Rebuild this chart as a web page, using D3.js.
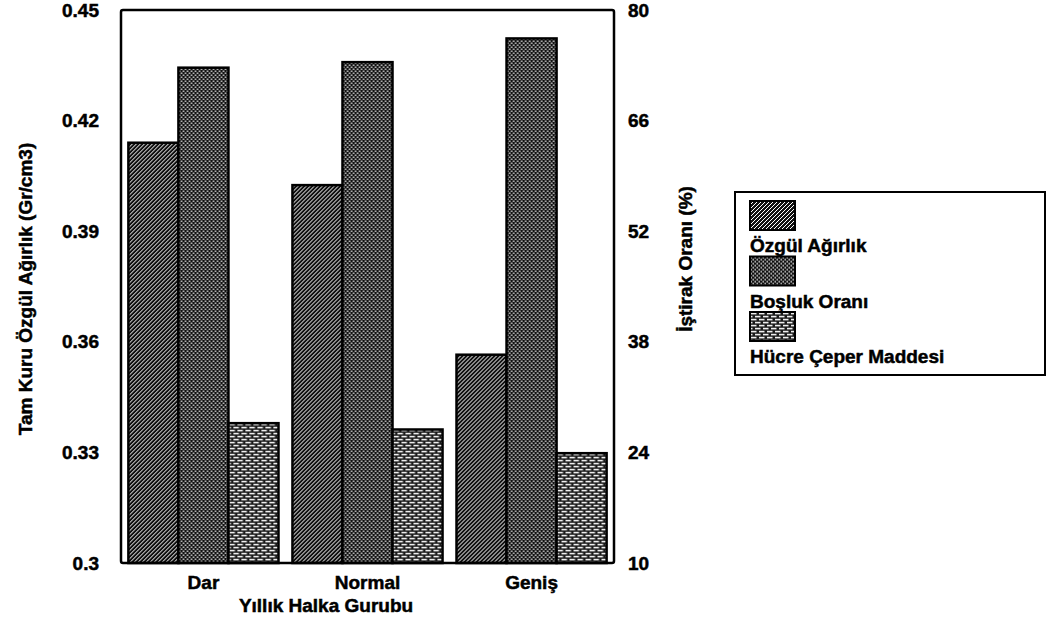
<!DOCTYPE html>
<html>
<head>
<meta charset="utf-8">
<script src="https://cdn.jsdelivr.net/npm/d3@7"></script>
<style>
  html, body { margin: 0; padding: 0; background: #fff; }
  text { font-family: "Liberation Sans", Arial, sans-serif; font-weight: bold; fill: #000; stroke: #000; stroke-width: 0.5px; }
</style>
</head>
<body>
<svg id="chart" width="1054" height="625"></svg>
<script>
// ---- data ----
const categories = ["Dar", "Normal", "Geniş"];
const seriesNames = ["Özgül Ağırlık", "Boşluk Oranı", "Hücre Çeper Maddesi"];
const ozgulAgirlik = [0.414, 0.4025, 0.3565];     // left axis (Gr/cm3)
const boslukOrani = [72.7, 73.4, 76.4];           // right axis (%)
const hucreCeper = [27.7, 26.9, 23.9];            // right axis (%)
const leftTicks = [0.3, 0.33, 0.36, 0.39, 0.42, 0.45];
const leftTickLabels = ["0.3", "0.33", "0.36", "0.39", "0.42", "0.45"];
const rightTicks = [10, 24, 38, 52, 66, 80];
const leftTitle = "Tam Kuru Özgül Ağırlık (Gr/cm3)";
const rightTitle = "İştirak Oranı (%)";
const xTitle = "Yıllık Halka Gurubu";

// ---- layout ----
const svg = d3.select("#chart");
const L = 121, R = 614, T = 10, B = 563;

const x = d3.scaleBand().domain(categories).range([L, R]).paddingInner(0.085).paddingOuter(0.045);
const xs = d3.scaleBand().domain([0, 1, 2]).range([0, x.bandwidth()]);
const yL = d3.scaleLinear().domain([0.3, 0.45]).range([B, T]);
const yR = d3.scaleLinear().domain([10, 80]).range([B, T]);

// ---- patterns ----
const defs = svg.append("defs");
// diagonal hatch
const p1 = defs.append("pattern").attr("id", "pat0").attr("patternUnits", "userSpaceOnUse")
  .attr("width", 4).attr("height", 4);
p1.append("rect").attr("width", 4).attr("height", 4).attr("fill", "#111");
p1.append("path").attr("d", "M-1,1 L1,-1 M0,4 L4,0 M3,5 L5,3")
  .attr("stroke", "#fff").attr("stroke-width", 1.0);
// dotted checker
const p2 = defs.append("pattern").attr("id", "pat1").attr("patternUnits", "userSpaceOnUse")
  .attr("width", 4).attr("height", 4);
p2.append("rect").attr("width", 4).attr("height", 4).attr("fill", "#111");
p2.append("rect").attr("x", 0.5).attr("y", 0.5).attr("width", 1.4).attr("height", 1.4).attr("fill", "#fff");
p2.append("rect").attr("x", 2.5).attr("y", 2.5).attr("width", 1.4).attr("height", 1.4).attr("fill", "#fff");
// brick
const p3 = defs.append("pattern").attr("id", "pat2").attr("patternUnits", "userSpaceOnUse")
  .attr("width", 8).attr("height", 6);
p3.append("rect").attr("width", 8).attr("height", 6).attr("fill", "#1a1a1a");
p3.append("rect").attr("x", 1).attr("y", 0.8).attr("width", 5.5).attr("height", 1.6).attr("fill", "#eee");
p3.append("rect").attr("x", 5).attr("y", 3.8).attr("width", 5.5).attr("height", 1.6).attr("fill", "#eee");
p3.append("rect").attr("x", -3).attr("y", 3.8).attr("width", 5.5).attr("height", 1.6).attr("fill", "#eee");

// ---- bars ----
const series = [
  { values: ozgulAgirlik, scale: yL },
  { values: boslukOrani, scale: yR },
  { values: hucreCeper, scale: yR }
];
const groups = svg.append("g").selectAll("g").data(categories).join("g")
  .attr("transform", d => `translate(${x(d)},0)`);
groups.selectAll("rect").data((c, ci) => series.map((s, si) => ({ si, v: s.values[ci], scale: s.scale })))
  .join("rect")
  .attr("x", d => xs(d.si))
  .attr("width", xs.bandwidth())
  .attr("y", d => d.scale(d.v))
  .attr("height", d => B - d.scale(d.v))
  .attr("fill", d => `url(#pat${d.si})`)
  .attr("stroke", "#000").attr("stroke-width", 2.5);

// ---- frame ----
svg.append("rect").attr("x", L).attr("y", T).attr("width", R - L).attr("height", B - T)
  .attr("fill", "none").attr("stroke", "#000").attr("stroke-width", 2.5).attr("rx", 2);

// ---- axes ----
const axL = svg.append("g").attr("transform", `translate(${L},0)`)
  .call(d3.axisLeft(yL).tickValues(leftTicks).tickSize(0).tickPadding(22)
    .tickFormat((d, i) => leftTickLabels[i]));
const axR = svg.append("g").attr("transform", `translate(${R},0)`)
  .call(d3.axisRight(yR).tickValues(rightTicks).tickSize(0).tickPadding(14));
const axB = svg.append("g").attr("transform", `translate(0,${B})`)
  .call(d3.axisBottom(x).tickSize(0).tickPadding(13));
[axL, axR, axB].forEach(a => {
  a.select(".domain").remove();
  a.selectAll("text").style("font-family", "Liberation Sans, Arial, sans-serif")
    .style("font-weight", "bold").style("font-size", "19px")
    .style("stroke", "#000").style("stroke-width", "0.5px");
});

// ---- titles ----
svg.append("text").attr("transform", `translate(32,${289}) rotate(-90)`)
  .attr("text-anchor", "middle").style("font-size", "19px").text(leftTitle);
svg.append("text").attr("transform", `translate(692,259) rotate(-90)`)
  .attr("text-anchor", "middle").style("font-size", "19px").text(rightTitle);
svg.append("text").attr("x", 326).attr("y", 612)
  .attr("text-anchor", "middle").style("font-size", "19px").text(xTitle);

// ---- legend ----
const lg = svg.append("g");
lg.append("rect").attr("x", 735).attr("y", 192).attr("width", 310).attr("height", 183)
  .attr("fill", "#fff").attr("stroke", "#000").attr("stroke-width", 2);
const legItems = lg.selectAll("g.item").data(seriesNames).join("g").attr("class", "item")
  .attr("transform", (d, i) => `translate(750,${201 + i * 55.5})`);
legItems.append("rect").attr("width", 45).attr("height", 29)
  .attr("fill", (d, i) => `url(#pat${i})`).attr("stroke", "#000").attr("stroke-width", 2);
legItems.append("text").attr("x", 0).attr("y", 51).style("font-size", "19px").text(d => d);
</script>
</body>
</html>
